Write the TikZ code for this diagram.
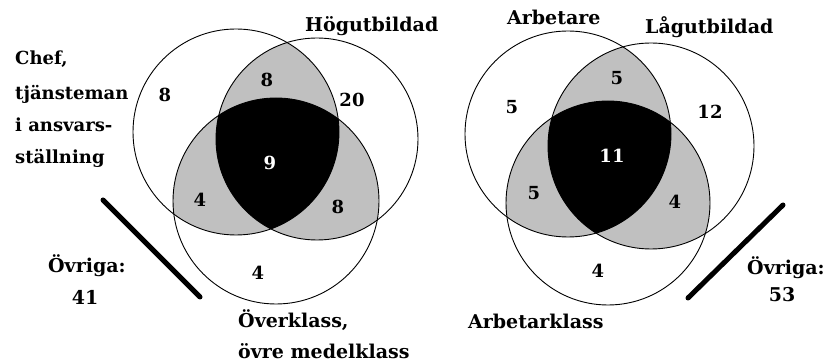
\documentclass[tikz,border=0pt]{standalone}
\usepackage{fontspec}
\setmainfont{DejaVu Serif}
\definecolor{venngray}{RGB}{192,192,192}
\begin{document}
\begin{tikzpicture}[x=1pt,y=-1pt,
  lbl/.style={font=\fontsize{19}{21}\selectfont\bfseries, inner sep=0pt, anchor=base west},
  lblsmall/.style={lbl, font=\fontsize{18}{20}\selectfont\bfseries},
  num/.style={font=\fontsize{18}{20}\selectfont\bfseries, inner sep=0pt},
  ring/.style={draw=black, line width=0.9pt},
  bar/.style={line width=5pt, line cap=round}]
\useasboundingbox (0,0) rectangle (830,363);
\fill[white] (0,0) rectangle (830,363);
% ---------- left diagram ----------
\coordinate (LA) at (236,132);
\coordinate (LB) at (317,139);
\coordinate (LC) at (276,201);
\begin{scope}\clip (LA) circle[radius=103pt]; \fill[venngray] (LB) circle[radius=101pt];\end{scope}
\begin{scope}\clip (LA) circle[radius=103pt]; \fill[venngray] (LC) circle[radius=103pt];\end{scope}
\begin{scope}\clip (LB) circle[radius=101pt]; \fill[venngray] (LC) circle[radius=103pt];\end{scope}
\begin{scope}\clip (LA) circle[radius=103pt]; \clip (LB) circle[radius=101pt]; \fill[black] (LC) circle[radius=103pt];\end{scope}
\draw[ring] (LA) circle[radius=103pt];
\draw[ring] (LB) circle[radius=101pt];
\draw[ring] (LC) circle[radius=103pt];
\node[num] (l1) at (165,95) {8};
\node[num] (l2) at (267,80) {8};
\node[num] (l3) at (352,100) {20};
\node[num,text=white] (l4) at (270,163) {9};
\node[num] (l5) at (200,200) {4};
\node[num] (l6) at (338,207) {8};
\node[num] (l7) at (258,273) {4};
\node[lblsmall] (chef1) at (15,65) {Chef,};
\node[lblsmall] (chef2) at (15,100) {tjänsteman};
\node[lblsmall] (chef3) at (15,132) {i ansvars-};
\node[lblsmall] (chef4) at (15,164) {ställning};
\node[lbl] (hog) at (305,32) {Högutbildad};
\node[lbl] (over1) at (238,327) {Överklass,};
\node[lbl] (over2) at (238,358) {övre medelklass};
\node[lbl] (ovrL) at (48,273) {Övriga:};
\node[lbl,anchor=base] (ovrLn) at (85,305) {41};
\coordinate (barL1) at (103,200);
\coordinate (barL2) at (200,297);
\draw[bar] (barL1) -- (barL2);
% ---------- right diagram ----------
\coordinate (RA) at (568,134);
\coordinate (RB) at (651,146);
\coordinate (RC) at (608,203);
\begin{scope}\clip (RA) circle[radius=103pt]; \fill[venngray] (RB) circle[radius=103pt];\end{scope}
\begin{scope}\clip (RA) circle[radius=103pt]; \fill[venngray] (RC) circle[radius=102pt];\end{scope}
\begin{scope}\clip (RB) circle[radius=103pt]; \fill[venngray] (RC) circle[radius=102pt];\end{scope}
\begin{scope}\clip (RA) circle[radius=103pt]; \clip (RB) circle[radius=103pt]; \fill[black] (RC) circle[radius=102pt];\end{scope}
\draw[ring] (RA) circle[radius=103pt];
\draw[ring] (RB) circle[radius=103pt];
\draw[ring] (RC) circle[radius=102pt];
\node[num] (r1) at (512,107) {5};
\node[num] (r2) at (617,78) {5};
\node[num] (r3) at (710,112) {12};
\node[num,text=white] (r4) at (612,156) {11};
\node[num] (r5) at (534,193) {5};
\node[num] (r6) at (675,202) {4};
\node[num] (r7) at (598,271) {4};
\node[lbl] (arb) at (507,25) {Arbetare};
\node[lbl] (lag) at (645,34) {Lågutbildad};
\node[lbl] (arbk) at (468,328) {Arbetarklass};
\node[lbl] (ovrR) at (747,275) {Övriga:};
\node[lbl,anchor=base] (ovrRn) at (782,302) {53};
\coordinate (barR1) at (688,298);
\coordinate (barR2) at (783,205);
\draw[bar] (barR1) -- (barR2);
\end{tikzpicture}
\end{document}
